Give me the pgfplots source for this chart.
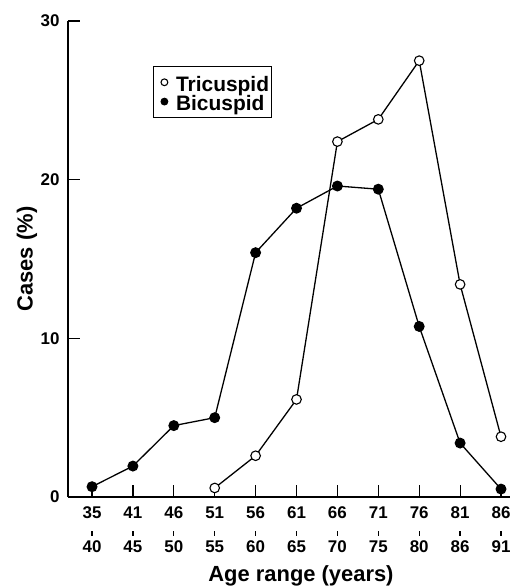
\documentclass[border=0pt]{standalone}
\usepackage{fontspec}
\setmainfont{Liberation Sans}
\usepackage{pgfplots}
\pgfplotsset{compat=1.18}
\begin{document}
\begin{tikzpicture}
\useasboundingbox (0,0) rectangle (510bp,-586bp);
\begin{axis}[
  at={(68bp,-497bp)}, anchor=south west,
  scale only axis, width=442bp, height=476bp,
  xmin=-0.587, xmax=10.22, ymin=0, ymax=30,
  axis x line*=bottom, axis y line*=left,
  axis line style={line width=1.2bp},
  xtick={0,...,10},
  xticklabels={
    {35\\\rule{1.3bp}{5bp}\\40},
    {41\\\rule{1.3bp}{5bp}\\45},
    {46\\\rule{1.3bp}{5bp}\\50},
    {51\\\rule{1.3bp}{5bp}\\55},
    {56\\\rule{1.3bp}{5bp}\\60},
    {61\\\rule{1.3bp}{5bp}\\65},
    {66\\\rule{1.3bp}{5bp}\\70},
    {71\\\rule{1.3bp}{5bp}\\75},
    {76\\\rule{1.3bp}{5bp}\\80},
    {81\\\rule{1.3bp}{5bp}\\86},
    {86\\\rule{1.3bp}{5bp}\\91}},
  ytick={0,10,20,30},
  tick align=inside, major tick length=12bp,
  tick style={line width=1.2bp, black},
  x tick label style={align=center, font=\fontsize{17}{17}\selectfont\bfseries, yshift=-6.5bp},
  y tick label style={font=\fontsize{17}{17}\selectfont\bfseries, xshift=-5bp},
  /pgf/number format/assume math mode=true,
  xlabel={Age range (years)}, ylabel={Cases (\%)},
  label style={font=\fontsize{22}{24}\selectfont\bfseries},
  xlabel style={at={(axis description cs:0.5,0)}, anchor=center, yshift=-79bp, xshift=12bp},
  ylabel style={at={(axis description cs:0,0.5)}, anchor=center, yshift=41bp},
  clip=false,
  legend style={at={(0.192,0.905)}, anchor=north west, draw=black, line width=0.8bp,
    font=\fontsize{21}{21}\selectfont\bfseries, inner xsep=2bp, inner ysep=6bp,
    nodes={inner sep=0pt, text height=18.5bp, text depth=0.8bp}},
  legend cell align=left,
  legend image code/.code={\draw[#1, mark size=3.4bp, line width=1bp] plot coordinates {(0bp,0bp)};
    \path (-8.5bp,0bp) (11bp,0bp);},
]
\addplot[black, line width=1.3bp, mark=*, mark size=4.8bp, mark options={fill=white, line width=1.1bp}]
  coordinates {(3,0.57) (4,2.6) (5,6.15) (6,22.4) (7,23.8) (8,27.5) (9,13.4) (10,3.8)};
\addlegendentry{Tricuspid}
\addplot[black, line width=1.3bp, mark=*, mark size=4.8bp, mark options={fill=black}]
  coordinates {(0,0.65) (1,1.95) (2,4.5) (3,5.0) (4,15.4) (5,18.2) (6,19.6) (7,19.4) (8,10.75) (9,3.4) (10,0.5)};
\addlegendentry{Bicuspid}
\end{axis}
\end{tikzpicture}
\end{document}
